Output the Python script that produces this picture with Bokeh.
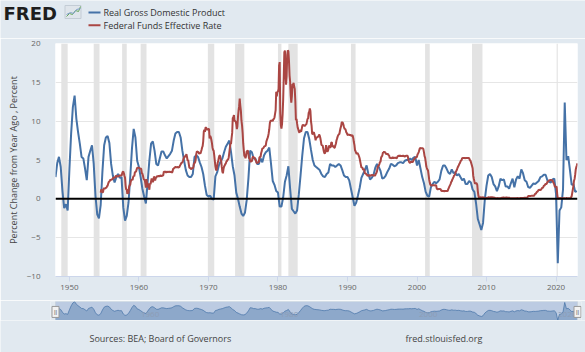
import pandas as pd
from bokeh.plotting import figure
from bokeh.models import ColumnDataSource, Range1d, FixedTicker, DatetimeTickFormatter, Span
from bokeh.layouts import column
from bokeh.embed import file_html
from bokeh.resources import INLINE

BG = "#e1e9f0"
BLUE = "#4572a7"
RED = "#aa4643"

# Real GDP, percent change from year ago, quarterly from 1948 Q1
gdp = [
    2.8, 4.6, 5.4, 4.1,   1.0, -1.2, -0.7, -1.5,   3.8, 8.4, 11.8, 13.3,
    10.3, 8.6, 7.1, 5.4,  5.2, 3.9, 2.4, 5.4,      6.2, 6.9, 4.5, 0.4,
    -2.0, -2.5, -0.8, 3.5, 6.9, 7.9, 8.1, 7.2,     4.5, 3.0, 2.1, 2.8,
    3.2, 2.7, 2.8, -1.1,  -2.8, -2.2, -0.5, 2.8,   6.5, 9.0, 7.9, 4.9,
    4.1, 2.8, 1.3, 0.3,   -0.6, 2.1, 4.9, 7.1,     7.4, 6.2, 4.5, 4.3,
    5.2, 6.1, 6.1, 5.6,   5.2, 5.5, 5.8, 6.2,      7.5, 8.4, 8.6, 8.6,
    7.9, 6.2, 4.9, 3.7,   3.0, 2.8, 2.8, 3.2,      5.4, 5.6, 5.4, 4.7,
    4.1, 3.2, 1.7, 0.5,   0.3, 0.4, 0.0, -0.1,     2.9, 3.4, 4.3, 4.8,
    5.2, 6.0, 6.7, 7.1,   7.5, 6.0, 4.2, 3.0,      0.8, 0.0, -1.0, -1.9,
    -2.2, -1.8, -0.2, 2.6, 6.2, 6.0, 5.2, 5.2,     4.5, 4.5, 5.2, 4.7,
    5.6, 6.0, 6.2, 6.6,   4.5, 2.3, 1.8, 1.0,      0.8, -1.0, -1.0, 0.2,
    2.2, 3.0, 4.2, 1.3,   -1.3, -1.6, -1.9, -1.5,  0.6, 3.0, 5.6, 7.8,
    8.6, 8.6, 7.7, 6.3,   5.0, 4.3, 4.1, 3.9,      3.7, 3.2, 2.9, 2.8,
    3.2, 3.4, 4.5, 4.3,   4.3, 4.1, 4.3, 4.5,      4.3, 3.7, 3.0, 2.8,
    2.8, 2.4, 1.3, 0.2,   -0.9, -0.5, 0.4, 1.4,    2.7, 3.2, 3.7, 4.3,
    3.2, 2.5, 2.7, 3.1,   4.0, 4.5, 4.1, 3.6,      2.6, 2.7, 3.0, 3.5,
    3.9, 4.5, 4.4, 4.2,   4.3, 4.6, 4.7, 4.7,      4.6, 4.9, 5.0, 5.0,
    5.2, 5.0, 5.3, 5.4,   4.3, 5.0, 3.9, 2.8,      2.0, 0.9, 0.4, 0.3,
    1.5, 1.9, 2.2, 2.0,   2.2, 2.5, 3.6, 4.3,      4.3, 3.9, 3.4, 3.2,
    3.8, 3.3, 3.4, 3.0,   3.2, 2.8, 2.4, 2.6,      1.9, 1.9, 2.3, 2.1,
    1.2, 0.9, -0.6, -2.6, -3.3, -4.0, -3.1, -0.1,  1.7, 3.0, 3.2, 2.8,
    1.9, 1.6, 1.0, 1.6,   2.6, 2.4, 2.5, 1.6,      1.6, 1.3, 2.0, 2.6,
    1.5, 2.5, 2.9, 2.6,   3.8, 3.3, 2.4, 2.2,      1.5, 1.4, 1.7, 2.0,
    1.9, 2.1, 2.3, 2.8,   2.9, 3.1, 3.1, 2.4,      2.2, 2.1, 2.5, 2.6,
    0.6, -8.3, -1.5, -1.1, 1.2, 12.4, 5.0, 5.5,    3.7, 1.8, 1.9, 0.9,
    1.0,
]

# Federal funds effective rate, monthly from July 1954
fedfunds = [
    0.80, 1.22, 1.07, 0.85, 0.83, 1.28,
    1.39, 1.29, 1.35, 1.43, 1.43, 1.64, 1.68, 1.96, 2.18, 2.24, 2.35, 2.48,
    2.45, 2.50, 2.50, 2.62, 2.75, 2.71, 2.75, 2.73, 2.95, 2.96, 2.88, 2.94,
    2.84, 3.00, 2.96, 3.00, 3.00, 3.00, 2.99, 3.24, 3.47, 3.50, 3.28, 2.98,
    2.72, 1.67, 1.20, 1.26, 0.63, 0.93, 0.68, 1.53, 1.76, 1.80, 2.27, 2.42,
    2.48, 2.43, 2.80, 2.96, 2.90, 3.39, 3.47, 3.50, 3.76, 3.98, 4.00, 3.99,
    3.99, 3.97, 3.84, 3.92, 3.85, 3.32, 3.23, 2.98, 2.60, 2.47, 2.44, 1.98,
    1.45, 2.54, 2.02, 1.49, 1.98, 1.73, 1.17, 2.00, 1.88, 2.26, 2.61, 2.33,
    2.15, 2.37, 2.85, 2.78, 2.36, 2.68, 2.71, 2.93, 2.90, 2.90, 2.94, 2.93,
    2.92, 3.00, 2.98, 2.90, 3.00, 2.99, 3.02, 3.49, 3.48, 3.50, 3.48, 3.38,
    3.48, 3.48, 3.43, 3.47, 3.50, 3.50, 3.42, 3.50, 3.45, 3.36, 3.52, 3.85,
    3.90, 3.98, 4.04, 4.09, 4.10, 4.04, 4.09, 4.12, 4.01, 4.08, 4.10, 4.32,
    4.42, 4.60, 4.65, 4.67, 4.90, 5.17, 5.30, 5.53, 5.40, 5.53, 5.76, 5.40,
    4.94, 5.00, 4.53, 4.05, 3.94, 3.98, 3.79, 3.90, 3.99, 3.88, 4.13, 4.51,
    4.61, 4.71, 5.05, 5.76, 6.11, 6.07, 6.02, 6.03, 5.78, 5.91, 5.82, 6.02,
    6.30, 6.61, 6.79, 7.41, 8.67, 8.90, 8.61, 9.19, 9.15, 9.00, 8.85, 8.97,
    8.98, 8.98, 7.76, 8.10, 7.95, 7.61, 7.21, 6.61, 6.29, 6.20, 5.60, 4.90,
    4.14, 3.72, 3.71, 4.16, 4.63, 4.91, 5.31, 5.57, 5.55, 5.20, 4.91, 4.14,
    3.50, 3.29, 3.83, 4.17, 4.27, 4.46, 4.55, 4.80, 4.87, 5.04, 5.06, 5.33,
    5.94, 6.58, 7.09, 7.12, 7.84, 8.49, 10.40, 10.50, 10.78, 10.01, 10.03, 9.95,
    9.65, 8.97, 9.35, 10.51, 11.31, 11.93, 12.92, 12.01, 11.34, 10.06, 9.45, 8.53,
    7.13, 6.24, 5.54, 5.49, 5.22, 5.55, 6.10, 6.14, 6.24, 5.82, 5.22, 5.20,
    4.87, 4.77, 4.84, 4.82, 5.29, 5.48, 5.31, 5.29, 5.25, 5.02, 4.95, 4.65,
    4.61, 4.68, 4.69, 4.73, 5.35, 5.39, 5.42, 5.90, 6.14, 6.47, 6.51, 6.56,
    6.70, 6.78, 6.79, 6.89, 7.36, 7.60, 7.81, 8.04, 8.45, 8.96, 9.76, 10.03,
    10.07, 10.06, 10.09, 10.01, 10.24, 10.29, 10.47, 10.94, 11.43, 13.77, 13.18, 13.78,
    13.82, 14.13, 17.19, 17.61, 10.98, 9.47, 9.03, 9.61, 10.87, 12.81, 15.85, 18.90,
    19.08, 15.93, 14.70, 15.72, 18.52, 19.10, 19.04, 17.82, 15.87, 15.08, 13.31, 12.37,
    13.22, 14.78, 14.68, 14.94, 14.45, 14.15, 12.59, 10.12, 10.31, 9.71, 9.20, 8.95,
    8.68, 8.51, 8.77, 8.80, 8.63, 8.98, 9.37, 9.56, 9.45, 9.48, 9.34, 9.47,
    9.56, 9.59, 9.91, 10.29, 10.32, 11.06, 11.23, 11.64, 11.30, 9.99, 9.43, 8.38,
    8.35, 8.50, 8.58, 8.27, 7.97, 7.53, 7.88, 7.90, 7.92, 7.99, 8.05, 8.27,
    8.14, 7.86, 7.48, 6.99, 6.85, 6.92, 6.56, 6.17, 5.89, 5.85, 6.04, 6.91,
    6.43, 6.10, 6.13, 6.37, 6.85, 6.73, 6.58, 6.73, 7.22, 7.29, 6.69, 6.77,
    6.83, 6.58, 6.58, 6.87, 7.09, 7.51, 7.75, 8.01, 8.19, 8.30, 8.35, 8.76,
    9.12, 9.36, 9.85, 9.84, 9.81, 9.53, 9.24, 8.99, 9.02, 8.84, 8.55, 8.45,
    8.23, 8.24, 8.28, 8.26, 8.18, 8.29, 8.15, 8.13, 8.20, 8.11, 7.81, 7.31,
    6.91, 6.25, 6.12, 5.91, 5.78, 5.90, 5.82, 5.66, 5.45, 5.21, 4.81, 4.43,
    4.03, 4.06, 3.98, 3.73, 3.82, 3.76, 3.25, 3.30, 3.22, 3.10, 3.09, 2.92,
    3.02, 3.03, 3.07, 2.96, 3.00, 3.04, 3.06, 3.03, 3.09, 2.99, 3.02, 2.96,
    3.05, 3.25, 3.34, 3.56, 4.01, 4.25, 4.26, 4.47, 4.73, 4.76, 5.29, 5.45,
    5.53, 5.92, 5.98, 6.05, 6.01, 6.00, 5.85, 5.74, 5.80, 5.76, 5.80, 5.60,
    5.56, 5.22, 5.31, 5.22, 5.24, 5.27, 5.40, 5.22, 5.30, 5.24, 5.31, 5.29,
    5.25, 5.19, 5.39, 5.51, 5.50, 5.56, 5.52, 5.54, 5.54, 5.50, 5.52, 5.50,
    5.56, 5.51, 5.49, 5.45, 5.49, 5.56, 5.54, 5.55, 5.51, 5.07, 4.83, 4.68,
    4.63, 4.76, 4.81, 4.74, 4.74, 4.76, 4.99, 5.07, 5.22, 5.20, 5.42, 5.30,
    5.45, 5.73, 5.85, 6.02, 6.27, 6.53, 6.54, 6.50, 6.52, 6.51, 6.51, 6.40,
    5.98, 5.49, 5.31, 4.80, 4.21, 3.97, 3.77, 3.65, 3.07, 2.49, 2.09, 1.82,
    1.73, 1.74, 1.73, 1.75, 1.75, 1.75, 1.73, 1.74, 1.75, 1.75, 1.34, 1.24,
    1.24, 1.26, 1.25, 1.26, 1.26, 1.22, 1.01, 1.03, 1.01, 1.01, 1.00, 0.98,
    1.00, 1.01, 1.00, 1.00, 1.00, 1.03, 1.26, 1.43, 1.61, 1.76, 1.93, 2.16,
    2.28, 2.50, 2.63, 2.79, 3.00, 3.04, 3.26, 3.50, 3.62, 3.78, 4.00, 4.16,
    4.29, 4.49, 4.59, 4.79, 4.94, 4.99, 5.24, 5.25, 5.25, 5.25, 5.25, 5.24,
    5.25, 5.26, 5.26, 5.25, 5.25, 5.25, 5.26, 5.02, 4.94, 4.76, 4.49, 4.24,
    3.94, 2.98, 2.61, 2.28, 1.98, 2.00, 2.01, 2.00, 1.81, 0.97, 0.39, 0.16,
    0.15, 0.22, 0.18, 0.15, 0.18, 0.21, 0.16, 0.16, 0.15, 0.12, 0.12, 0.12,
    0.11, 0.13, 0.16, 0.20, 0.20, 0.18, 0.18, 0.19, 0.19, 0.19, 0.19, 0.18,
    0.17, 0.16, 0.14, 0.10, 0.09, 0.09, 0.07, 0.10, 0.08, 0.07, 0.08, 0.07,
    0.08, 0.10, 0.13, 0.14, 0.16, 0.16, 0.16, 0.13, 0.14, 0.16, 0.16, 0.16,
    0.14, 0.15, 0.14, 0.15, 0.11, 0.09, 0.09, 0.08, 0.08, 0.09, 0.08, 0.09,
    0.07, 0.07, 0.08, 0.09, 0.09, 0.10, 0.09, 0.09, 0.09, 0.09, 0.09, 0.12,
    0.11, 0.11, 0.11, 0.12, 0.12, 0.13, 0.13, 0.14, 0.14, 0.12, 0.12, 0.24,
    0.34, 0.38, 0.36, 0.37, 0.37, 0.38, 0.39, 0.40, 0.40, 0.40, 0.41, 0.54,
    0.65, 0.66, 0.79, 0.90, 0.91, 1.04, 1.15, 1.16, 1.15, 1.15, 1.16, 1.30,
    1.41, 1.42, 1.51, 1.69, 1.70, 1.82, 1.91, 1.91, 1.95, 2.19, 2.20, 2.27,
    2.40, 2.40, 2.41, 2.42, 2.39, 2.38, 2.40, 2.13, 2.04, 1.83, 1.55, 1.55,
    1.55, 1.58, 0.65, 0.05, 0.05, 0.08, 0.09, 0.10, 0.09, 0.09, 0.09, 0.09,
    0.09, 0.08, 0.07, 0.07, 0.06, 0.08, 0.10, 0.09, 0.08, 0.08, 0.08, 0.08,
    0.08, 0.08, 0.20, 0.33, 0.77, 1.21, 1.68, 2.33, 2.56, 3.08, 3.78, 4.10,
    4.33, 4.57,
]

recession_start = ["1948-11-01", "1953-07-01", "1957-08-01", "1960-04-01", "1969-12-01",
                   "1973-11-01", "1980-01-01", "1981-07-01", "1990-07-01", "2001-03-01",
                   "2007-12-01", "2020-02-01"]
recession_end = ["1949-10-01", "1954-05-01", "1958-04-01", "1961-02-01", "1970-11-01",
                 "1975-03-01", "1980-07-01", "1982-11-01", "1991-03-01", "2001-11-01",
                 "2009-06-01", "2020-04-01"]

y_ticks = [-10, -5, 0, 5, 10, 15, 20]
x_tick_years = [1950, 1960, 1970, 1980, 1990, 2000, 2010, 2020]
nav_label_years = [1960, 1980, 2000, 2020]
x_start, x_end = "1948-01-01", "2023-02-01"
series_names = ["Real Gross Domestic Product", "Federal Funds Effective Rate"]
y_title = "Percent Change from Year Ago , Percent"
source_text = "Sources: BEA; Board of Governors"
site_text = "fred.stlouisfed.org"

FONT = "Open Sans"
W = 585

gdp_dates = pd.date_range("1948-01-01", periods=len(gdp), freq="QS")
ff_dates = pd.date_range("1954-07-01", periods=len(fedfunds), freq="MS")


def ms(d):
    return pd.Timestamp(d).value // 10**6


def page_figure(height, top):
    """A figure whose frame covers its whole canvas, in page pixel units."""
    f = figure(width=W, height=height, output_backend="svg", toolbar_location=None,
               x_range=Range1d(0, W), y_range=Range1d(top + height, top),
               min_border=0, min_border_left=0, min_border_right=0,
               min_border_top=0, min_border_bottom=0,
               background_fill_color=BG, border_fill_color=BG, outline_line_color=None)
    f.axis.visible = False
    f.grid.grid_line_color = None
    f.frame_align = False
    return f


# ---------------- header: logo + legend ----------------
H_HEAD = 38
head = page_figure(H_HEAD, 0)
head.text(x=[3], y=[12.5], text=["FRED"], text_font={"value": "DejaVu Sans"},
          text_font_style="bold", text_font_size="18px", text_color="#1e1e1e",
          text_baseline="middle")
head.rect(x=[72.5], y=[11.5], width=16, height=13, fill_color="#dfe5eb",
          line_color="#c3ccd5", line_width=1)
head.line(x=[66, 69, 72, 75, 78, 80], y=[16, 13, 14, 10, 11, 6], line_color="#66a85a", line_width=1)
head.line(x=[66, 70, 73, 76, 80], y=[14, 12, 13, 9, 8], line_color="#7f9fc9", line_width=1)
legend_y = [12, 24.7]
head.segment(x0=[88, 88], x1=[100, 100], y0=legend_y, y1=legend_y,
             line_color=[BLUE, RED], line_width=2)
head.text(x=[103, 103], y=legend_y, text=series_names, text_font={"value": FONT},
          text_font_size="9px", text_color="#333333", text_baseline="middle")

# ---------------- main chart ----------------
FL, FR = 55, 8
H_MAIN = 262
p = figure(width=W, height=H_MAIN, output_backend="svg", toolbar_location=None,
           x_range=Range1d(pd.Timestamp(x_start), pd.Timestamp(x_end)),
           y_range=Range1d(y_ticks[0], y_ticks[-1]),
           x_axis_type="datetime",
           min_border_left=FL, min_border_right=FR, min_border_top=5, min_border_bottom=24,
           background_fill_color="white", border_fill_color=BG, outline_line_color=None)
p.frame_align = False

rec = ColumnDataSource(dict(left=[ms(s) for s in recession_start],
                            right=[ms(e) for e in recession_end]))
p.quad(left="left", right="right", bottom=y_ticks[0], top=y_ticks[-1], source=rec,
       fill_color="#e3e3e3", line_color=None)

p.add_layout(Span(location=0, dimension="width", line_color="black", line_width=2))

p.line(gdp_dates, gdp, line_color=BLUE, line_width=2)
p.line(ff_dates, fedfunds, line_color=RED, line_width=2)

p.xgrid.grid_line_color = None
p.ygrid.grid_line_color = "#e6e6e6"
p.ygrid.ticker = FixedTicker(ticks=y_ticks)

p.yaxis.ticker = FixedTicker(ticks=y_ticks)
p.yaxis.axis_line_color = None
p.yaxis.major_tick_line_color = None
p.yaxis.minor_tick_line_color = None
p.yaxis.major_label_text_font = FONT
p.yaxis.major_label_text_font_size = "8px"
p.yaxis.major_label_text_color = "#666666"
p.yaxis.major_label_standoff = 9
p.yaxis.axis_label = y_title
p.yaxis.axis_label_text_font = FONT
p.yaxis.axis_label_text_font_size = "9px"
p.yaxis.axis_label_text_font_style = "normal"
p.yaxis.axis_label_text_color = "#444444"
p.yaxis.axis_label_standoff = 4

p.xaxis.ticker = FixedTicker(ticks=[ms(f"{y}-01-01") for y in x_tick_years])
fmt = "%Y"
p.xaxis.formatter = DatetimeTickFormatter(years=fmt, months=fmt, days=fmt, hours=fmt,
                                          hourmin=fmt, minutes=fmt, minsec=fmt, seconds=fmt,
                                          milliseconds=fmt, microseconds=fmt)
p.xaxis.axis_line_color = "#ccd6eb"
p.xaxis.major_tick_line_color = "#ccd6eb"
p.xaxis.major_tick_out = 5
p.xaxis.major_tick_in = 0
p.xaxis.minor_tick_line_color = None
p.xaxis.major_label_text_font = FONT
p.xaxis.major_label_text_font_size = "8px"
p.xaxis.major_label_text_color = "#666666"
p.xaxis.major_label_standoff = 3

# ---------------- navigator ----------------
H_NAV = 20
NL, NR = 50, 4       # frame slightly wider than the navigator so the handles fit
main_w = W - FL - FR
ms_per_px = (ms(x_end) - ms(x_start)) / main_w
nav_x = Range1d(ms(x_start) - (FL - NL) * ms_per_px, ms(x_end) + (FR - NR) * ms_per_px)
nav_lo, nav_hi = min(gdp) - 0.4, max(gdp) + 0.2
nav = figure(width=W, height=H_NAV, output_backend="svg", toolbar_location=None,
             x_range=nav_x, y_range=Range1d(nav_lo, nav_hi),
             min_border_left=NL, min_border_right=NR, min_border_top=1, min_border_bottom=0,
             background_fill_color=BG, border_fill_color=BG, outline_line_color=None)
nav.frame_align = False
nav.axis.visible = False
nav.grid.grid_line_color = None
nav.quad(left=[ms(x_start)], right=[ms(x_end)], bottom=[nav_lo], top=[nav_hi],
         fill_color="#bccbe2", line_color="#c9d3de")
nav.varea(x=gdp_dates, y1=nav_lo, y2=gdp, fill_color=BLUE, fill_alpha=0.4)
nav.line(gdp_dates, gdp, line_color=BLUE, line_width=1, line_alpha=0.7)
nav_y = nav_lo + 0.3 * (nav_hi - nav_lo)
nav.text(x=[ms(f"{y}-01-01") for y in nav_label_years], y=[nav_y] * len(nav_label_years),
         text=[str(y) for y in nav_label_years], text_font={"value": FONT},
         text_font_size="8px", text_color="#8d9db5", text_baseline="middle", x_offset=2)
handle_y = nav_lo + 0.45 * (nav_hi - nav_lo)
nav.rect(x=[ms(x_start), ms(x_end)], y=[handle_y, handle_y], width=7, height=11,
         width_units="screen", height_units="screen",
         fill_color="#f2f2f2", line_color="#999999", line_width=1)
nav.text(x=[ms(x_start), ms(x_end)], y=[handle_y, handle_y], text=["||", "||"],
         text_font_size="6px", text_color="#555555", text_align="center",
         text_baseline="middle")

# ---------------- footer ----------------
H_FOOT = 352 - H_HEAD - H_MAIN - H_NAV
foot = page_figure(H_FOOT, H_HEAD + H_MAIN + H_NAV)
foot.text(x=[89, 405], y=[338, 338], text=[source_text, site_text], text_font={"value": FONT},
          text_font_size="9px", text_color="#444444", text_baseline="middle")

layout = column(head, p, nav, foot, spacing=0)
open("out.html", "w").write(file_html(layout, INLINE))
